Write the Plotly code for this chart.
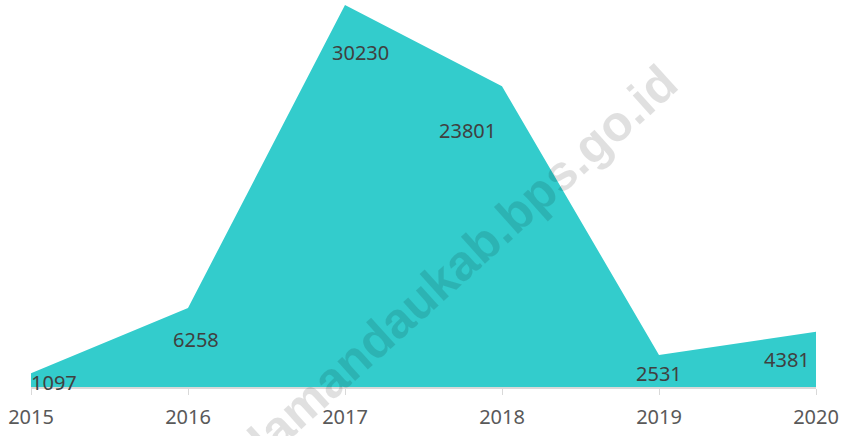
import plotly.graph_objects as go

years = [2015, 2016, 2017, 2018, 2019, 2020]
values = [1097, 6258, 30230, 23801, 2531, 4381]
tick_labels = ["2015", "2016", "2017", "2018", "2019", "2020"]

# label offsets in pixels (Excel-style placement inside the area)
label_dx = [23, 8, 15, -35, 0, -29]
label_dy = [-9, -32, -47, -44, -18, -28]

FONT = "Noto Sans"
fill_color = "#33CCCC"

fig = go.Figure()
fig.add_trace(
    go.Scatter(
        x=years,
        y=values,
        mode="lines",
        fill="tozeroy",
        fillcolor=fill_color,
        line=dict(color=fill_color, width=0),
        hoverinfo="x+y",
        showlegend=False,
    )
)

for x, y, dx, dy in zip(years, values, label_dx, label_dy):
    fig.add_annotation(
        x=x, y=y, text=str(y), showarrow=False,
        xshift=dx, yshift=dy,
        font=dict(family=FONT, size=20, color="#404040"),
    )

# watermark
fig.add_annotation(
    xref="paper", yref="paper", x=0.55, y=0.33,
    xanchor="center", yanchor="middle",
    text="<b>lamandaukab.bps.go.id</b>", showarrow=False,
    textangle=-42,
    font=dict(family="Liberation Sans", size=50, color="rgba(0,0,0,0.12)"),
)

fig.update_xaxes(
    range=[2015, 2020],
    tickvals=years,
    ticktext=tick_labels,
    automargin=False,
    showgrid=False,
    zeroline=False,
    showline=True,
    linecolor="#D9D9D9",
    linewidth=2,
    ticks="outside",
    ticklen=6,
    tickcolor="#D9D9D9",
    tickwidth=1,
    ticklabelstandoff=5,
    tickfont=dict(family=FONT, size=20, color="#595959"),
)
fig.update_yaxes(
    range=[0, 30230],
    visible=False,
    automargin=False,
    showgrid=False,
    zeroline=False,
)
fig.update_layout(
    width=848,
    height=436,
    margin=dict(l=31, r=32, t=5, b=49, autoexpand=False),
    plot_bgcolor="white",
    paper_bgcolor="white",
)

# drop the browser's default 8px body margin so the figure fills the window
fig.write_html(
    "out.html",
    config={"displayModeBar": False},
    post_script="document.body.style.margin='0';",
)
